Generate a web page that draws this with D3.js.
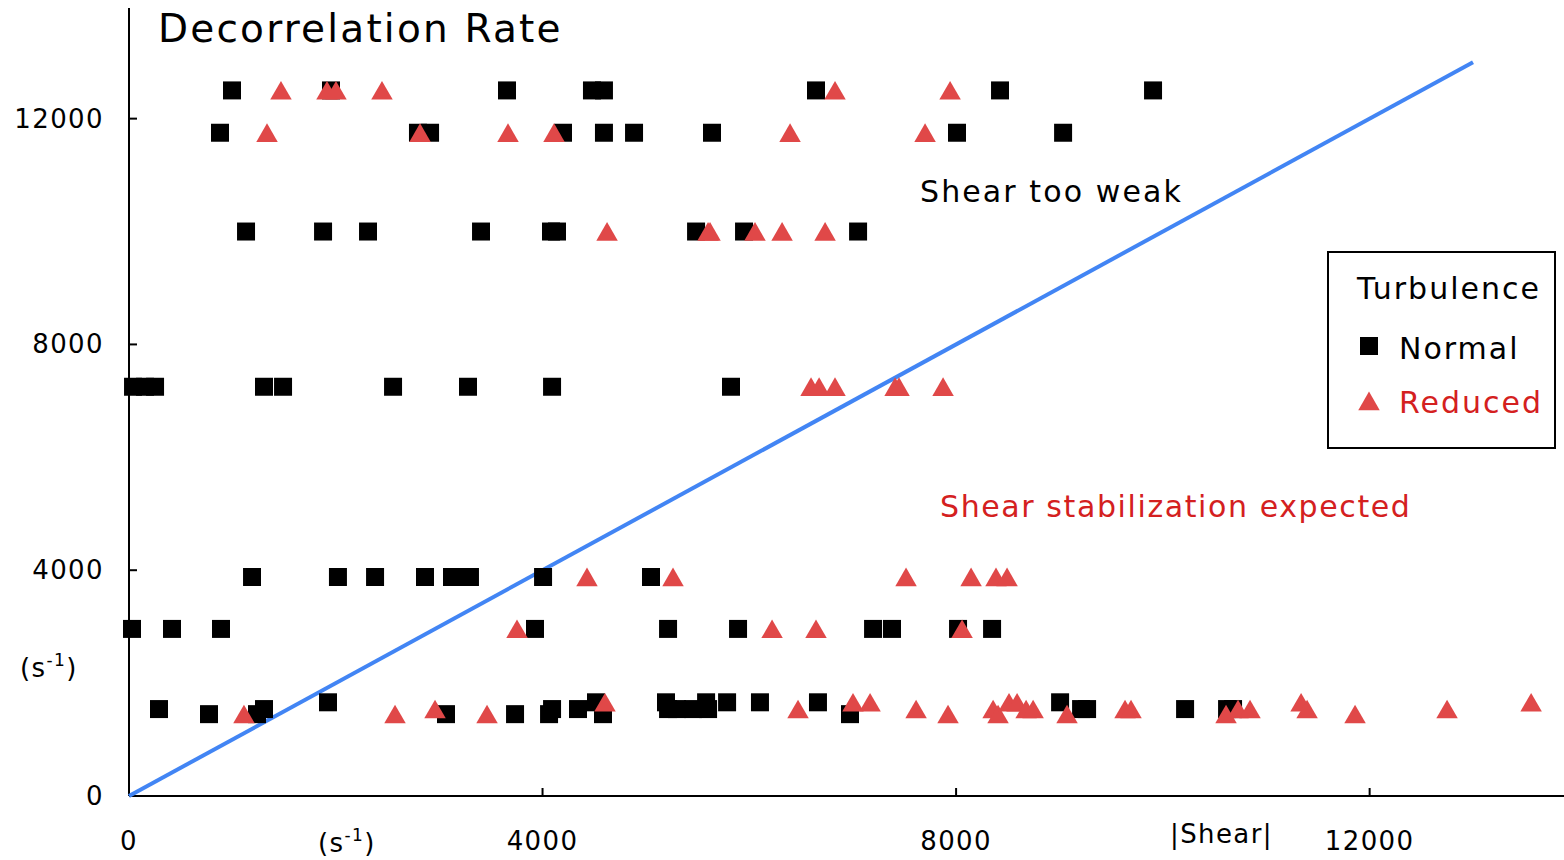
<!DOCTYPE html>
<html>
<head>
<meta charset="utf-8">
<script src="https://cdn.jsdelivr.net/npm/d3@7"></script>
<style>
  body { margin: 0; background: #fff; }
  text { font-family: "DejaVu Sans", sans-serif; letter-spacing: 1.4px; }
</style>
</head>
<body>
<script>
// data: [shear, decorrelation rate]
var normal = [
  [996,12500],[1954,12500],[3656,12500],[4478,12500],[4594,12500],[6645,12500],[8425,12500],[9905,12500],
  [880,11750],[2795,11750],[2912,11750],[4198,11750],[4594,11750],[4885,11750],[5639,11750],[8009,11750],[9035,11750],
  [1132,10000],[1877,10000],[2312,10000],[3405,10000],[4082,10000],[4140,10000],[5485,10000],[5949,10000],[7052,10000],
  [39,7250],[155,7250],[252,7250],[1306,7250],[1490,7250],[2554,7250],[3279,7250],[4092,7250],[5823,7250],
  [1190,3880],[2021,3880],[2380,3880],[2863,3880],[3124,3880],[3221,3880],[3298,3880],[4005,3880],[5049,3880],
  [29,2960],[416,2960],[890,2960],[3927,2960],[5214,2960],[5891,2960],[7197,2960],[7380,2960],[8019,2960],[8348,2960],
  [290,1540],[774,1450],[1238,1450],[1306,1540],[1925,1660],[3066,1450],[3734,1450],[4063,1450],[4092,1540],
  [4343,1540],[4517,1660],[4585,1450],[5194,1660],[5214,1540],[5301,1540],[5456,1540],[5582,1660],[5601,1540],
  [5785,1660],[6103,1660],[6664,1660],[6974,1450],[9006,1660],[9209,1540],[9267,1540],[10215,1540],[10621,1540],[10679,1540]
];
var reduced = [
  [1470,12500],[1915,12500],[2002,12500],[2447,12500],[6829,12500],[7942,12500],
  [1335,11750],[2815,11750],[3666,11750],[4111,11750],[6394,11750],[7700,11750],
  [4624,10000],[5601,10000],[5620,10000],[6055,10000],[6317,10000],[6733,10000],
  [6597,7250],[6675,7250],[6829,7250],[7410,7250],[7448,7250],[7874,7250],
  [4430,3880],[5262,3880],[7516,3880],[8145,3880],[8386,3880],[8493,3880],
  [3753,2960],[6220,2960],[6645,2960],[8058,2960],
  [1112,1450],[2573,1450],[2960,1540],[3463,1450],[4604,1660],[6471,1540],[7003,1660],[7168,1660],[7613,1540],
  [7922,1450],[8358,1540],[8406,1450],[8512,1660],[8590,1660],[8677,1540],[8745,1540],[9073,1450],[9634,1540],
  [9692,1540],[10611,1450],[10727,1540],[10843,1540],[11337,1660],[11395,1540],[11859,1450],[12749,1540],[13562,1660]
];
var guide = [[0,0],[13000,13000]];
var xTicks = [0,4000,8000,12000];
var yTicks = [0,4000,8000,12000];

var W = 1564, H = 860;
var x = d3.scaleLinear().domain([0,13880]).range([129,1564]);
var y = d3.scaleLinear().domain([0,13960]).range([796,8]);
var red = "#e04848";

var svg = d3.select("body").append("svg").attr("width", W).attr("height", H);

svg.append("line").attr("x1",129).attr("x2",129).attr("y1",8).attr("y2",796).attr("stroke","#000").attr("stroke-width",2);
svg.append("line").attr("x1",129).attr("x2",1564).attr("y1",796).attr("y2",796).attr("stroke","#000").attr("stroke-width",2);

svg.selectAll(".yt").data(yTicks).enter().append("line")
  .attr("x1",129).attr("x2",137).attr("y1",d=>y(d)).attr("y2",d=>y(d)).attr("stroke","#000").attr("stroke-width",2);
svg.selectAll(".ytl").data(yTicks).enter().append("text")
  .attr("x",104).attr("y",d=>y(d)+9).attr("text-anchor","end").attr("font-size",26).text(d=>d);
svg.selectAll(".xt").data(xTicks).enter().append("line")
  .attr("x1",d=>x(d)).attr("x2",d=>x(d)).attr("y1",796).attr("y2",788).attr("stroke","#000").attr("stroke-width",2);
svg.selectAll(".xtl").data(xTicks).enter().append("text")
  .attr("x",d=>x(d)).attr("y",850).attr("text-anchor","middle").attr("font-size",26).text(d=>d);

function units(t, px, py) {
  t.attr("x",px).attr("y",py).attr("font-size",26);
  t.append("tspan").text("(s");
  t.append("tspan").attr("font-size",17).attr("dy",-11).text("-1");
  t.append("tspan").attr("dy",11).text(")");
}
units(svg.append("text"), 318, 852);
units(svg.append("text"), 20, 677);
svg.append("text").attr("x",1170).attr("y",843).attr("font-size",26).text("|Shear|");

svg.append("text").attr("x",158).attr("y",42).attr("font-size",39).style("letter-spacing","2.2px").text("Decorrelation Rate");
svg.append("text").attr("x",920).attr("y",202).attr("font-size",30).style("letter-spacing","2.1px").text("Shear too weak");
svg.append("text").attr("x",940).attr("y",517).attr("font-size",30).style("letter-spacing","1.6px").attr("fill","#d42020").text("Shear stabilization expected");

svg.append("path").datum(guide).attr("d", d3.line().x(d=>x(d[0])).y(d=>y(d[1])))
  .attr("stroke","#4285f4").attr("stroke-width",4).attr("fill","none");

var sq = d3.symbol().type(d3.symbolSquare).size(324);
var tri = d3.symbol().type(d3.symbolTriangle).size(200);
svg.selectAll(".n").data(normal).enter().append("path")
  .attr("d", sq).attr("transform", d=>"translate("+x(d[0])+","+y(d[1])+")").attr("fill","#000");
svg.selectAll(".r").data(reduced).enter().append("path")
  .attr("d", tri).attr("transform", d=>"translate("+x(d[0])+","+(y(d[1])+3)+")").attr("fill",red);

var lg = svg.append("g");
lg.append("rect").attr("x",1328).attr("y",252).attr("width",227).attr("height",196).attr("fill","#fff").attr("stroke","#000").attr("stroke-width",2);
lg.append("text").attr("x",1357).attr("y",299).attr("font-size",30).style("letter-spacing","2px").text("Turbulence");
lg.append("path").attr("d",sq).attr("transform","translate(1369,346)").attr("fill","#000");
lg.append("text").attr("x",1399).attr("y",359).attr("font-size",30).style("letter-spacing","2px").text("Normal");
lg.append("path").attr("d",tri).attr("transform","translate(1369,404)").attr("fill",red);
lg.append("text").attr("x",1399).attr("y",413).attr("font-size",30).style("letter-spacing","2px").attr("fill","#d42020").text("Reduced");
</script>
</body>
</html>
